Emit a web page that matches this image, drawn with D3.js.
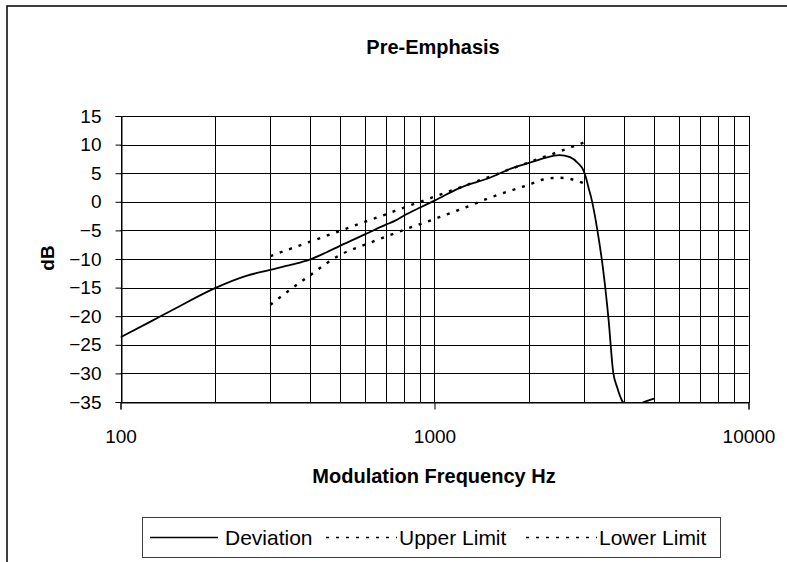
<!DOCTYPE html>
<html>
<head>
<meta charset="utf-8">
<script src="https://cdn.jsdelivr.net/npm/d3@7"></script>
<style>
  body { margin: 0; background: #fff; }
  svg { display: block; font-family: Arial, "Liberation Sans", sans-serif; }
</style>
</head>
<body>
<div id="chart"></div>
<script>
// deviation curve (Hz, dB)
const devFreq = [100, 125, 150, 200, 250, 300, 350, 400, 450, 500, 600, 700, 750, 800, 900, 1000,
  1200, 1500, 1750, 2000, 2250, 2500, 2700, 2870, 2980, 3030, 3100, 3150, 3300, 3450, 3580,
  3710, 3810, 3950, 4100, 4300, 4640, 5000]
const devDb = [-23.7, -20.9, -18.6, -15.1, -13.0, -11.9, -11.0, -10.1, -8.9, -7.7, -5.7, -4.0, -3.3, -2.4, -1.0, 0.2,
  2.4, 4.2, 5.8, 6.8, 7.7, 8.15, 7.8, 6.7, 5.5, 4.4, 2.3, 0.9, -4.9, -12.2, -20.3,
  -29.9, -32.3, -34.7, -35.6, -35.8, -35.0, -34.4]

// upper limit
const upFreq = [300, 400, 500, 600, 700, 800, 900, 1000, 1500, 2000, 2500, 3000]
const upDb = [-9.5, -7.0, -5.1, -3.5, -2.2, -1.0, 0.0, 0.9, 4.4, 6.9, 8.8, 10.4]

// lower limit
const loFreq = [300, 400, 500, 600, 700, 800, 1000, 1200, 1500, 2000, 2300, 2500, 2700, 3000]
const loDb = [-18.0, -12.9, -9.3, -7.5, -6.1, -4.9, -3.0, -1.4, 0.7, 3.0, 4.1, 4.2, 4.0, 3.2]

const yTicks = [15, 10, 5, 0, -5, -10, -15, -20, -25, -30, -35]
const xTicks = [100, 1000, 10000]
const seriesNames = ["Deviation", "Upper Limit", "Lower Limit"]

;(function () {
  const W = 787, H = 562
  const pl = 120.5, pr = 748.5, pt = 116, pb = 402

  const svg = d3.select("#chart").append("svg")
    .attr("width", W)
    .attr("height", H)

  // outer chart frame (runs off the right and bottom)
  svg.append("rect")
    .attr("x", 7).attr("y", 6)
    .attr("width", 820).attr("height", 620)
    .attr("fill", "none")
    .attr("stroke", "#000")
    .attr("stroke-width", 1.5)

  const x = d3.scaleLog().domain([100, 10000]).range([pl, pr])
  const y = d3.scaleLinear().domain([-35, 15]).range([pb, pt])

  // grid
  const minor = []
  for (let dec = 100; dec < 10000; dec *= 10) {
    for (let k = 1; k < 10; k++) minor.push(dec * k)
  }
  minor.push(10000)

  svg.append("g").selectAll("line")
    .data(minor)
    .enter().append("line")
    .attr("x1", d => Math.round(x(d)) + 0.5)
    .attr("x2", d => Math.round(x(d)) + 0.5)
    .attr("y1", pt).attr("y2", pb)
    .attr("stroke", "#000")
    .attr("stroke-width", 1)

  svg.append("g").selectAll("line")
    .data(yTicks)
    .enter().append("line")
    .attr("x1", pl).attr("x2", pr)
    .attr("y1", d => Math.round(y(d)) + 0.5)
    .attr("y2", d => Math.round(y(d)) + 0.5)
    .attr("stroke", "#000")
    .attr("stroke-width", 1)

  // axes
  const yAxis = d3.axisLeft(y).tickValues(yTicks).tickSize(6).tickPadding(14)
  svg.append("g")
    .attr("class", "axis y-axis")
    .attr("transform", "translate(" + (Math.round(pl) + 0.5) + ",0)")
    .call(yAxis)

  const xAxis = d3.axisBottom(x).tickValues(xTicks).tickFormat(d3.format("d")).tickSize(7).tickPadding(20)
  svg.append("g")
    .attr("class", "axis x-axis")
    .attr("transform", "translate(0," + (Math.round(pb) + 0.5) + ")")
    .call(xAxis)

  svg.selectAll(".axis path").attr("stroke", "#000")
  svg.selectAll(".axis line").attr("stroke", "#000")
  svg.selectAll(".axis text")
    .attr("font-size", 19)
    .attr("font-family", "Arial, 'Liberation Sans', sans-serif")
    .attr("fill", "#000")

  // plot border
  svg.append("rect")
    .attr("x", Math.round(pl) + 0.5).attr("y", Math.round(pt) + 0.5)
    .attr("width", Math.round(pr) - Math.round(pl))
    .attr("height", Math.round(pb) - Math.round(pt))
    .attr("fill", "none")
    .attr("stroke", "#000")

  // clip the curves to the plot area
  svg.append("clipPath").attr("id", "plotclip")
    .append("rect")
    .attr("x", pl).attr("y", pt)
    .attr("width", pr - pl).attr("height", pb - pt + 1)

  const line = d3.line()
    .x(d => x(d[0]))
    .y(d => y(d[1]))
    .curve(d3.curveMonotoneX)

  const plot = svg.append("g").attr("clip-path", "url(#plotclip)")

  plot.append("path")
    .datum(d3.zip(upFreq, upDb))
    .attr("d", line)
    .attr("fill", "none")
    .attr("stroke", "#000")
    .attr("stroke-width", 2.4)
    .attr("stroke-dasharray", "3,7")

  plot.append("path")
    .datum(d3.zip(loFreq, loDb))
    .attr("d", line)
    .attr("fill", "none")
    .attr("stroke", "#000")
    .attr("stroke-width", 2.4)
    .attr("stroke-dasharray", "3,7")

  plot.append("path")
    .datum(d3.zip(devFreq, devDb))
    .attr("d", line)
    .attr("fill", "none")
    .attr("stroke", "#000")
    .attr("stroke-width", 1.8)

  // titles
  svg.append("text")
    .attr("x", 433).attr("y", 54)
    .attr("text-anchor", "middle")
    .attr("font-size", 20)
    .attr("font-weight", "bold")
    .text("Pre-Emphasis")

  svg.append("text")
    .attr("x", 434).attr("y", 483)
    .attr("text-anchor", "middle")
    .attr("font-size", 20)
    .attr("font-weight", "bold")
    .text("Modulation Frequency Hz")

  svg.append("text")
    .attr("transform", "translate(54,258) rotate(-90)")
    .attr("text-anchor", "middle")
    .attr("font-size", 19)
    .attr("font-weight", "bold")
    .text("dB")

  // legend
  const legend = svg.append("g")
  legend.append("rect")
    .attr("x", 142.5).attr("y", 517.5)
    .attr("width", 578).attr("height", 40)
    .attr("fill", "#fff")
    .attr("stroke", "#404040")

  const legendX = [150, 326, 526]
  const legendItems = legend.selectAll("g.item")
    .data(seriesNames)
    .enter().append("g")
    .attr("class", "item")
    .attr("transform", (d, i) => "translate(" + legendX[i] + ",537.5)")

  legendItems.append("line")
    .attr("x1", 0).attr("x2", (d, i) => i === 0 ? 68 : 71)
    .attr("stroke", "#000")
    .attr("stroke-width", 1.5)
    .attr("stroke-dasharray", (d, i) => i === 0 ? null : "3,7")

  legendItems.append("text")
    .attr("x", (d, i) => i === 0 ? 75 : 73)
    .attr("dy", "0.35em")
    .attr("font-size", 21)
    .text(d => d)
})()
</script>
</body>
</html>
